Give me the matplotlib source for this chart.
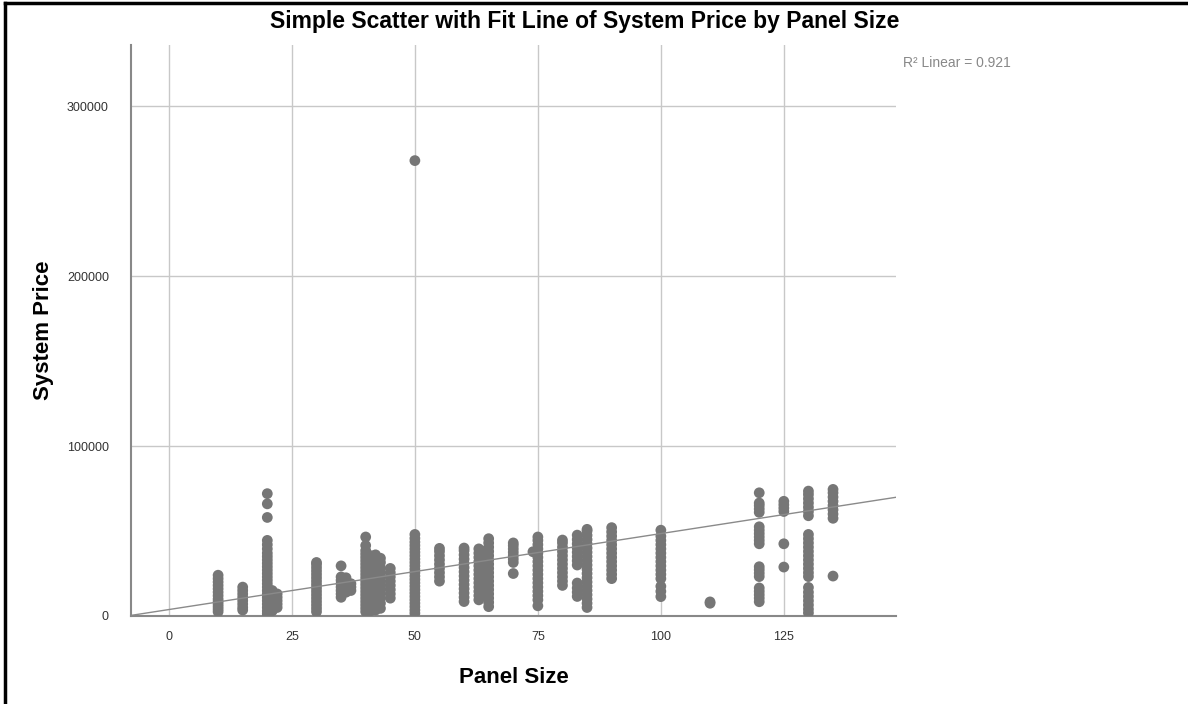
import matplotlib
matplotlib.use("Agg")
import matplotlib.pyplot as plt
from matplotlib.lines import Line2D
import numpy as np

# -----------------------
# Data (System Price in thousands, grouped by Panel Size)
# -----------------------
panel_sizes = [10, 15, 20, 21, 22, 30, 35, 36, 37, 40, 41, 42, 43, 45, 50,
               55, 60, 63, 64, 65, 70, 74, 75, 80, 83, 85, 90, 100, 110,
               120, 125, 130, 135]

price_10 = [2.5, 4, 5.5, 7, 8.5, 10, 12, 14, 16, 18, 20, 22, 24]
price_15 = [3.5, 5, 7, 9, 11, 13, 15, 17]
price_20 = [0, 1.5, 3, 5, 7, 9, 11, 13, 15, 17, 19, 21, 23, 25, 27, 29, 31,
            33, 35, 37, 39.5, 42, 44.5, 58, 66, 72]
price_21 = [3, 5, 7, 9, 11, 13, 15]
price_22 = [5, 7, 9, 11, 13]
price_30 = [2.5, 4.5, 6.5, 8.5, 10.5, 12.5, 14.5, 16.5, 18.5, 20.5, 22.5,
            24.5, 26.5, 28.5, 30.5, 31.5]
price_35 = [11, 13, 15, 17, 19, 21, 23, 29.5]
price_36 = [14, 16, 18, 20, 22.5]
price_37 = [15, 17, 19]
price_40 = [2.5, 4.5, 6.5, 8.5, 10.5, 12.5, 14.5, 16.5, 18.5, 20.5, 22.5,
            24.5, 26.5, 28.5, 30.5, 32.5, 34.5, 36.5, 38.5, 41.5, 46.5]
price_41 = [3, 5.5, 8, 10.5, 13, 15.5, 18, 20.5, 23, 25.5, 28, 30.5, 33, 35.5]
price_42 = [3.5, 6, 8.5, 11, 13.5, 16, 18.5, 21, 23.5, 26, 28.5, 31, 33.5, 36]
price_43 = [4.5, 7.5, 10.5, 13.5, 16.5, 19.5, 22.5, 25.5, 28.5, 31.5, 34]
price_45 = [10.5, 13, 15.5, 18, 20.5, 23, 25.5, 28]
price_50 = [1.6, 3.5, 5.5, 7.5, 9.5, 11.5, 13.5, 15.5, 17.5, 19.5, 21.5,
            23.5, 25.5, 27.5, 29.5, 31.5, 33.5, 35.5, 37.5, 39.5, 41.5, 43.5,
            45.7, 48, 268]
price_55 = [20.5, 23, 25.5, 28, 30.5, 33, 35.5, 38, 39.8]
price_60 = [8.5, 11, 13.5, 16, 18.5, 21, 23.5, 26, 28.5, 31, 33.5, 36, 38.5,
            40]
price_63 = [9.5, 12, 14.5, 17, 19.5, 22, 24.5, 27, 29.5, 32, 34.5, 37, 39.5]
price_64 = [12, 15, 18, 21, 24, 27, 30, 33, 36, 38]
price_65 = [5.5, 8, 10.5, 13, 15.5, 18, 20.5, 23, 25.5, 28, 30.5, 33, 35.5,
            38, 40.5, 43, 45.5]
price_70 = [25, 31.5, 33.5, 35.5, 37.5, 39.5, 41.5, 43]
price_74 = [37.8]
price_75 = [6, 9.5, 12, 14.5, 17, 19.5, 22, 24.5, 27, 29.5, 32, 34.5, 37,
            39.5, 42, 44.5, 46.5]
price_80 = [18, 20.5, 23, 25.5, 28, 30.5, 33, 35.5, 38, 40.5, 43, 44.7]
price_83 = [11.5, 14, 16.5, 19.4, 30, 32.5, 35, 37.5, 40, 42.5, 45, 47.6]
price_85 = [5, 7.5, 10, 12.5, 15, 17.5, 20, 22.5, 25, 27.5, 30, 32.5, 35,
            37.5, 40, 42.5, 45, 47.5, 50, 51]
price_90 = [22, 24.5, 27, 29.5, 32, 34.5, 37, 39.5, 42, 44.5, 47, 49.5, 52]
price_100 = [11.4, 14.5, 17.5, 22, 24.5, 27, 29.5, 32, 34.5, 37, 39.5, 42,
             44.5, 47, 50.5]
price_110 = [7.5, 8.3]
price_120 = [8.4, 10.5, 12.5, 14.5, 16.5, 23.2, 25.2, 27.2, 29, 42.5, 44.5,
             46.5, 48.5, 50.5, 52.5, 61, 63, 65, 66.5, 72.5]
price_125 = [28.8, 42.5, 61.5, 63.5, 65.5, 67.5]
price_130 = [1.8, 4, 6.5, 9, 11.5, 14, 16.8, 23.2, 25.5, 28, 30.5, 33, 35.5,
             38, 40.5, 43, 45.5, 48, 59, 61.5, 64, 66.5, 69, 71.5, 73.5]
price_135 = [23.5, 57.5, 60, 62.5, 65, 67.5, 70, 72.5, 74.5]

price_groups = [price_10, price_15, price_20, price_21, price_22, price_30,
                price_35, price_36, price_37, price_40, price_41, price_42,
                price_43, price_45, price_50, price_55, price_60, price_63,
                price_64, price_65, price_70, price_74, price_75, price_80,
                price_83, price_85, price_90, price_100, price_110, price_120,
                price_125, price_130, price_135]

# fit line
fit_intercept = 3800
fit_slope = 447
r_squared = 0.921

x_ticks = [0, 25, 50, 75, 100, 125]
y_ticks = [0, 100000, 200000, 300000]

# -----------------------
# Plot
# -----------------------
plt.rcParams['font.family'] = ['Liberation Sans', 'DejaVu Sans']

panel = np.concatenate([[s] * len(g) for s, g in zip(panel_sizes, price_groups)])
price = np.concatenate(price_groups) * 1000

fig = plt.figure(figsize=(11.88, 7.04), dpi=100)
ax = fig.add_axes([0.1103, 0.125, 0.6439, 0.811])

xlim = (-7.7, 147.8)
ax.set_xlim(*xlim)
ax.set_ylim(0, 336000)

ax.grid(True, color='#c8c8c8', linewidth=1.0)
ax.set_axisbelow(True)

ax.scatter(panel, price, s=60, color='#767676', edgecolors='none', zorder=3)

fit_x = np.array(xlim)
ax.plot(fit_x, fit_intercept + fit_slope * fit_x, color='#8a8a8a',
        linewidth=1.0, zorder=4)

ax.set_xticks(x_ticks)
ax.set_yticks(y_ticks)
ax.set_yticklabels([str(v) for v in y_ticks])
ax.tick_params(length=0, labelsize=9, colors='#333333')
ax.tick_params(axis='y', pad=16)
ax.tick_params(axis='x', pad=11)

for side in ['top', 'right']:
    ax.spines[side].set_visible(False)
for side in ['left', 'bottom']:
    ax.spines[side].set_color('#888888')
    ax.spines[side].set_linewidth(1.5)

ax.set_xlabel("Panel Size", fontsize=16, fontweight='bold', labelpad=17)
ax.set_ylabel("System Price", fontsize=16, fontweight='bold', labelpad=9)

fig.text(0.4925, 0.969, "Simple Scatter with Fit Line of System Price by Panel Size",
         ha='center', va='center', fontsize=16.5, fontweight='bold')
fig.text(0.76, 0.911, "R\u00b2 Linear = %.3f" % r_squared, ha='left', va='center',
         fontsize=10, color='#888888')

# frame lines along top and left edge
fig.add_artist(Line2D([0.004, 1.0], [0.996, 0.996], color='black', linewidth=2.5,
                      transform=fig.transFigure))
fig.add_artist(Line2D([0.004, 0.004], [0.0, 0.996], color='black', linewidth=2.5,
                      transform=fig.transFigure))

fig.savefig("out.png", dpi=100)
